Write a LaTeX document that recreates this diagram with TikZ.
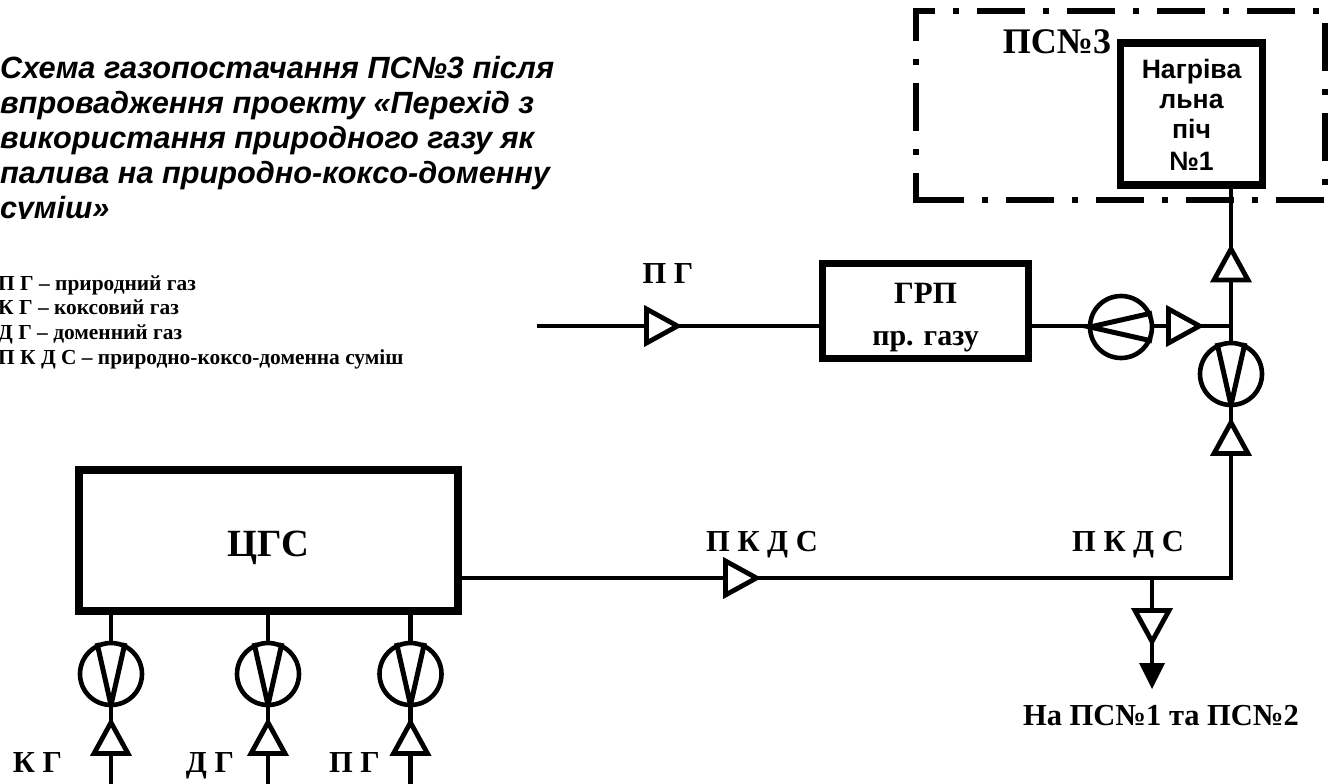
\documentclass[tikz,border=0pt]{standalone}
\usepackage{fontspec}
\setmainfont{Liberation Serif}
\newfontfamily\arialfont{Liberation Sans}
\newcommand{\bigtxt}[1]{\fontsize{#1}{#1}\selectfont\bfseries}
\tikzset{
	pipe/.style={line width=4.8},
	gasbox/.style={draw,line width=7.2,inner sep=0,align=center},
	caption/.style={inner sep=0,anchor=base},
	legendline/.style={inner sep=0,anchor=base west,font=\bigtxt{21.4}},
	siteframe/.style={line width=6.6,dash pattern=on 48 off 18 on 6 off 18},
	pics/flowmark/.style={code={
		\draw[line width=4.8,fill=white,miter limit=10] (-16,-17) to (15,0) to (-16,17) to cycle;
	}},
	pics/blower/.style={code={
		\draw[line width=4.6,fill=white] (0,0) circle (31);
		\draw[line width=5] (31,-14) to (-31,0) to (31,14);
	}}
}
\begin{document}
\begin{tikzpicture}[x=1pt,y=-1pt]
	\useasboundingbox (0,0) rectangle (1328,784);
	% boxes
	\node[gasbox,minimum width=142,minimum height=142] (furnace) at (1191.5,114) {};
	\node[gasbox,minimum width=206,minimum height=95] (grp) at (925.5,311) {};
	\node[gasbox,minimum width=379,minimum height=141] (cgs) at (268.5,540.5) {};
	\node[caption,font=\arialfont\bigtxt{26.6}] (furn1) at (1191.5,78) {Нагріва};
	\node[caption,font=\arialfont\bigtxt{26.6}] (furn2) at (1191.5,108) {льна};
	\node[caption,font=\arialfont\bigtxt{26.6}] (furn3) at (1191.5,138) {піч};
	\node[caption,font=\arialfont\bigtxt{26.6}] (furn4) at (1191.5,170) {№1};
	\node[caption,font=\bigtxt{31}] (grp1) at (925.5,303) {ГРП};
	\node[caption,font=\bigtxt{30}] (grp2) at (925.5,345) {пр. газу};
	\node[caption,font=\bigtxt{38.5}] (cgstxt) at (268,556) {ЦГС};
	% site border
	\draw[siteframe,dash phase=29] (916,11) to (1328,11);
	\draw[siteframe] (916,200) to (1328,200);
	\draw[siteframe,dash phase=18] (916,203) to (916,8);
	\draw[siteframe] (1325,23) to (1325,200);
	\node[caption,font=\bigtxt{36}] (site) at (1057,54) {ПС№3};
	% pipes
	\coordinate (pgstart) at (537,326);
	\coordinate (join) at (1231,326);
	\coordinate (bend) at (1231,578);
	\coordinate (drop) at (1152,578);
	\coordinate (dropend) at (1152,668);
	\draw[pipe] (pgstart) to (grp.west |- pgstart);
	\draw[pipe] (grp.east |- join) to (join);
	\draw[pipe] (furnace.south -| join) to (bend) to (cgs.east |- bend);
	\draw[pipe] (drop) to (dropend);
	\fill (1139,663) to (1165,663) to (1152,689) to cycle;
	% marks on the lines
	\pic at (662.5,326) {flowmark};
	\pic at (741.5,578) {flowmark};
	\pic at (1184.5,326) {flowmark};
	\pic[rotate=90] at (1231,264) {flowmark};
	\pic[rotate=90] at (1231,437.5) {flowmark};
	\pic[rotate=-90] at (1152,626.5) {flowmark};
	\pic at (1121,327) {blower};
	\pic[rotate=90] at (1231,374) {blower};
	% inlets of the gas station
	\foreach \xcoord/\nodename in {111/kg,268/dg,410.5/pg} {
		\coordinate (\nodename bot) at (\xcoord,784);
		\draw[pipe] (cgs.south -| \nodename bot) to (\nodename bot);
		\pic[rotate=90] at (\xcoord,674) {blower};
		\pic[rotate=90] at (\xcoord,737.5) {flowmark};
	}
	% labels
	\node[caption,font=\bigtxt{30.5}] (pgtop) at (668,283) {П Г};
	\node[caption,font=\bigtxt{30.5}] (pkds1) at (762,551) {П К Д С};
	\node[caption,font=\bigtxt{30.5}] (pkds2) at (1128,551) {П К Д С};
	\node[caption,font=\bigtxt{30.5}] (dest) at (1161,725) {На ПС№1 та ПС№2};
	\node[caption,font=\bigtxt{30.5}] (kgtxt) at (37.5,772) {К Г};
	\node[caption,font=\bigtxt{30.5}] (dgtxt) at (210,772) {Д Г};
	\node[caption,font=\bigtxt{30.5}] (pgtxt) at (354.5,772) {П Г};
	% legend
	\node[legendline] (leg1) at (-2,290) {П Г – природний газ};
	\node[legendline] (leg2) at (-2,314.5) {К Г – коксовий газ};
	\node[legendline] (leg3) at (-2,339) {Д Г – доменний газ};
	\node[legendline] (leg4) at (-2,364) {П К Д С – природно-коксо-доменна суміш};
	% title, its last line is cut at the bottom
	\begin{scope}
		\clip (0,40) rectangle (600,218);
		\foreach \ycoord/\nodename/\titleline in {78/tit1/Схема газопостачання ПС№3 після,113/tit2/впровадження проекту «Перехід з,148/tit3/використання природного газу як,183/tit4/палива на природно-коксо-доменну,218.5/tit5/суміш»}
			\node[inner sep=0,anchor=base west,font=\arialfont\bigtxt{30.7}\itshape] (\nodename) at (0,\ycoord) {\titleline};
	\end{scope}
\end{tikzpicture}
\end{document}
